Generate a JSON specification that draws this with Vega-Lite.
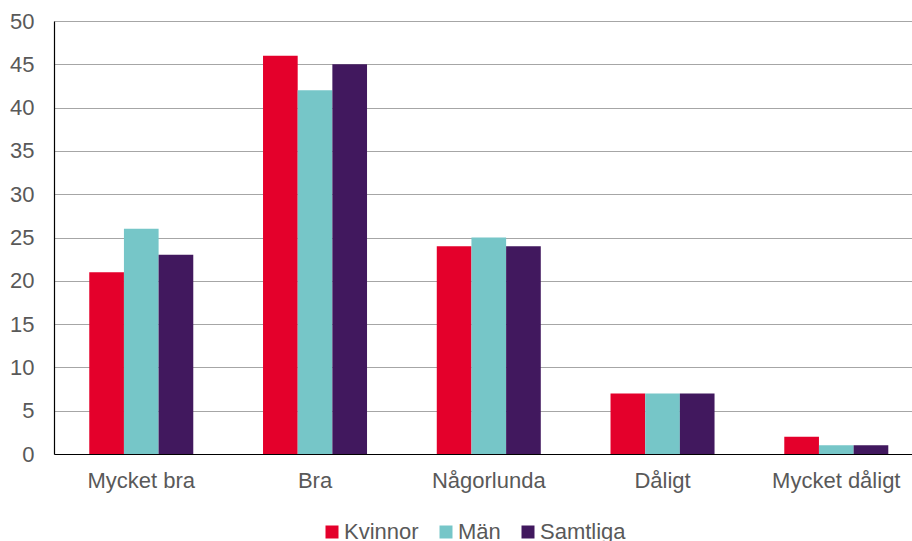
{
  "$schema": "https://vega.github.io/schema/vega-lite/v6.json",
  "width": 858,
  "height": 433,
  "autosize": {"type": "none"},
  "padding": {"left": 54, "top": 21, "right": 0, "bottom": 87},
  "background": "#ffffff",
  "config": {
    "view": {"stroke": null},
    "font": "Liberation Sans",
    "text": {"font": "Liberation Sans"}
  },
  "data": {
    "values": [
      {"kategori": "Mycket bra", "grupp": "Kvinnor", "andel": 21},
      {"kategori": "Mycket bra", "grupp": "Män", "andel": 26},
      {"kategori": "Mycket bra", "grupp": "Samtliga", "andel": 23},
      {"kategori": "Bra", "grupp": "Kvinnor", "andel": 46},
      {"kategori": "Bra", "grupp": "Män", "andel": 42},
      {"kategori": "Bra", "grupp": "Samtliga", "andel": 45},
      {"kategori": "Någorlunda", "grupp": "Kvinnor", "andel": 24},
      {"kategori": "Någorlunda", "grupp": "Män", "andel": 25},
      {"kategori": "Någorlunda", "grupp": "Samtliga", "andel": 24},
      {"kategori": "Dåligt", "grupp": "Kvinnor", "andel": 7},
      {"kategori": "Dåligt", "grupp": "Män", "andel": 7},
      {"kategori": "Dåligt", "grupp": "Samtliga", "andel": 7},
      {"kategori": "Mycket dåligt", "grupp": "Kvinnor", "andel": 2},
      {"kategori": "Mycket dåligt", "grupp": "Män", "andel": 1},
      {"kategori": "Mycket dåligt", "grupp": "Samtliga", "andel": 1}
    ]
  },
  "mark": {"type": "bar"},
  "encoding": {
    "x": {
      "field": "kategori",
      "type": "nominal",
      "sort": ["Mycket bra", "Bra", "Någorlunda", "Dåligt", "Mycket dåligt"],
      "scale": {"paddingInner": 0.4014, "paddingOuter": 0.1697, "align": 0.598},
      "axis": {
        "title": null,
        "labelAngle": 0,
        "ticks": false,
        "domainColor": "#000000",
        "domainWidth": 1.2,
        "labelFont": "Liberation Sans",
        "labelFontSize": 22,
        "labelColor": "#595959",
        "labelPadding": 16,
        "grid": false
      }
    },
    "xOffset": {
      "field": "grupp",
      "type": "nominal",
      "sort": ["Kvinnor", "Män", "Samtliga"],
      "scale": {"paddingInner": 0, "paddingOuter": 0}
    },
    "y": {
      "field": "andel",
      "type": "quantitative",
      "scale": {"domain": [0, 50], "nice": false},
      "axis": {
        "title": null,
        "values": [0, 5, 10, 15, 20, 25, 30, 35, 40, 45, 50],
        "ticks": false,
        "domainColor": "#000000",
        "domainWidth": 1.2,
        "gridColor": "#A6A6A6",
        "gridWidth": 1,
        "labelFont": "Liberation Sans",
        "labelFontSize": 22,
        "labelColor": "#595959",
        "labelPadding": 20
      }
    },
    "color": {
      "field": "grupp",
      "type": "nominal",
      "sort": ["Kvinnor", "Män", "Samtliga"],
      "scale": {
        "domain": ["Kvinnor", "Män", "Samtliga"],
        "range": ["#E4002B", "#76C6C8", "#41185E"]
      },
      "legend": {
        "title": null,
        "orient": "none",
        "direction": "horizontal",
        "legendX": 267,
        "legendY": 500,
        "symbolType": "square",
        "symbolSize": 169,
        "symbolStrokeWidth": 0,
        "symbolOpacity": 1,
        "labelFont": "Liberation Sans",
        "labelFontSize": 22,
        "labelColor": "#595959",
        "labelOffset": 1,
        "columnPadding": 16,
        "padding": 0
      }
    }
  }
}
